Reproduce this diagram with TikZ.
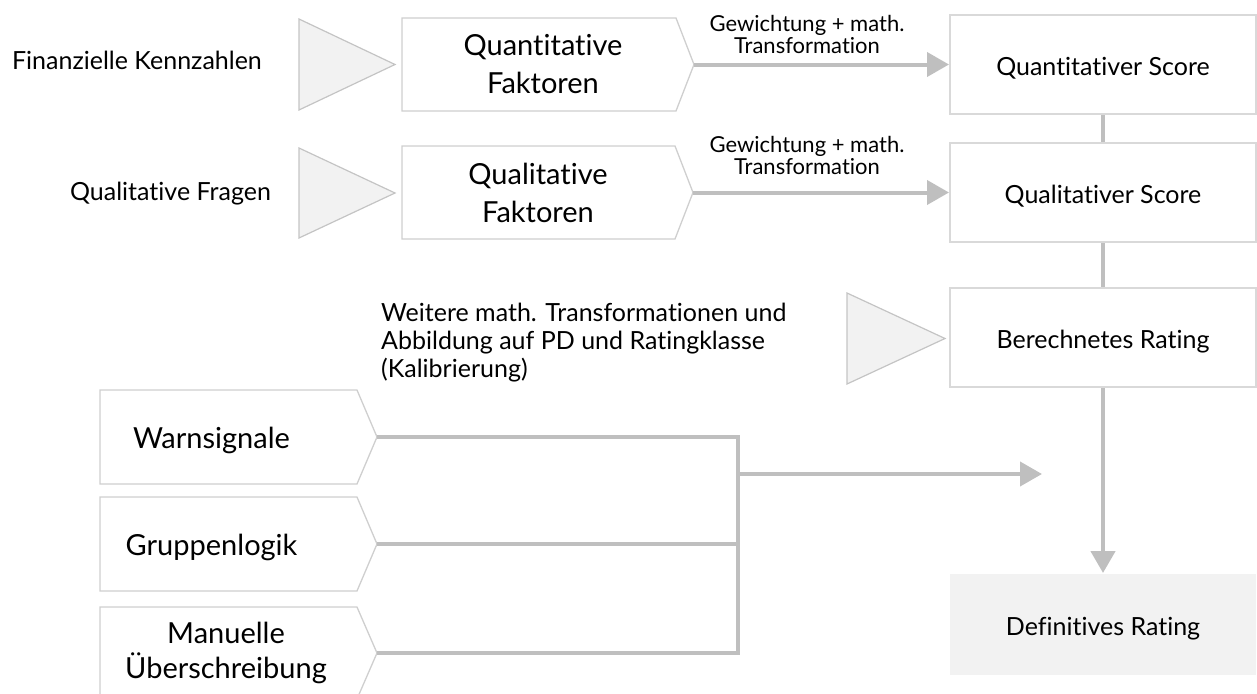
\documentclass[tikz,border=0pt]{standalone}
\usepackage{fontspec}
\setmainfont{Lato}[Ligatures=NoCommon]
\usetikzlibrary{arrows.meta}
\definecolor{conn}{HTML}{BFBFBF}
\definecolor{boxline}{HTML}{D9D9D9}
\definecolor{chevline}{HTML}{CFCFCF}
\definecolor{triline}{HTML}{C4C4C4}
\definecolor{softfill}{HTML}{F2F2F2}
\begin{document}
\begin{tikzpicture}[x=1pt,y=-1pt,
  connline/.style={draw=conn,line width=4pt},
  arrowline/.style={connline,-{Triangle[length=22pt,width=24pt]}},
  scorebox/.style={draw=boxline,line width=2pt,minimum width=306pt,minimum height=99pt,inner sep=0pt,
    text height=21pt,text depth=0pt,font=\fontsize{25}{30}\selectfont},
  finalbox/.style={scorebox,draw=none,fill=softfill,minimum height=101pt},
  chev/.style={draw=chevline,line width=1.3pt,fill=white},
  tri/.style={draw=triline,line width=1.2pt,fill=softfill},
  bigtext/.style={font=\fontsize{29}{38}\selectfont,align=center,inner sep=0pt},
  midtext/.style={font=\fontsize{25}{28}\selectfont,inner sep=0pt},
  smalltext/.style={font=\fontsize{22}{22}\selectfont,align=center,inner sep=0pt}]
\useasboundingbox (0,0) rectangle (1257,693);
\clip (0,0) rectangle (1257,693);

% input triangles
\draw[tri] (299,19) -- (395,64.5) -- (299,110) -- cycle;
\draw[tri] (299,148) -- (395,193) -- (299,238) -- cycle;
\draw[tri] (847,293) -- (945,338.5) -- (847,384) -- cycle;

% source texts
\node[midtext,anchor=base] (fin) at (137,70) {Finanzielle Kennzahlen};
\node[midtext,anchor=base] (qfr) at (170.5,200) {Qualitative Fragen};

% factor chevrons
\draw[chev] (402,18) -- (676,18) -- (694,64.5) -- (676,111) -- (402,111) -- cycle;
\coordinate (qftip) at (694,64.5);
\node[bigtext] (qf) at (543,64.5) {Quantitative\\Faktoren};
\draw[chev] (402,146) -- (675,146) -- (693,192.5) -- (675,239) -- (402,239) -- cycle;
\coordinate (qlftip) at (693,192.5);
\node[bigtext] (qlf) at (538,192.5) {Qualitative\\Faktoren};

% score boxes
\node[scorebox] (qs) at (1103,64.5) {Quantitativer Score};
\node[scorebox] (qls) at (1103,192.5) {Qualitativer Score};
\node[scorebox] (br) at (1103,337.5) {Berechnetes Rating};
\node[finalbox] (dr) at (1103,624.5) {Definitives Rating};

% arrow labels
\node[smalltext] (lab1) at (807,34) {Gewichtung + math.\\Transformation};
\node[smalltext] (lab2) at (807,155) {Gewichtung + math.\\Transformation};
\node[midtext,align=left,anchor=west] (calib) at (381,343) {Weitere math. Transformationen und\\Abbildung auf PD und Ratingklasse\\(Kalibrierung)};

% connectors on the right
\draw[arrowline] (qftip) -- (qs.west);
\draw[arrowline] (qlftip) -- (qls.west);
\draw[connline,line width=4.5pt] (qs.south) -- (qls.north);
\draw[connline,line width=4.5pt] (qls.south) -- (br.north);
\draw[arrowline,line width=4.5pt] (br.south) -- (dr.north);

% override chevrons
\draw[chev] (100,390) -- (357,390) -- (377,437) -- (357,484) -- (100,484) -- cycle;
\coordinate (warntip) at (377,437);
\node[bigtext,anchor=base] (warn) at (211.5,448) {Warnsignale};
\draw[chev] (100,497) -- (357,497) -- (377,544) -- (357,591) -- (100,591) -- cycle;
\coordinate (grptip) at (377,544);
\node[bigtext,anchor=base] (grp) at (211.5,555) {Gruppenlogik};
\draw[chev] (100,607) -- (357,607) -- (377,653) -- (357,699) -- (100,699) -- cycle;
\coordinate (mantip) at (377,653);
\node[bigtext,font=\fontsize{29}{35}\selectfont] (man) at (226,652.5) {Manuelle\\Überschreibung};

\coordinate (junc) at (738,474);
\coordinate (target) at (1042,474);
\draw[connline] (warntip) -| (junc);
\draw[connline] (grptip) -| (junc);
\draw[connline] (mantip) -| (junc);
\draw[arrowline] (junc) -- (target);
\end{tikzpicture}
\end{document}
